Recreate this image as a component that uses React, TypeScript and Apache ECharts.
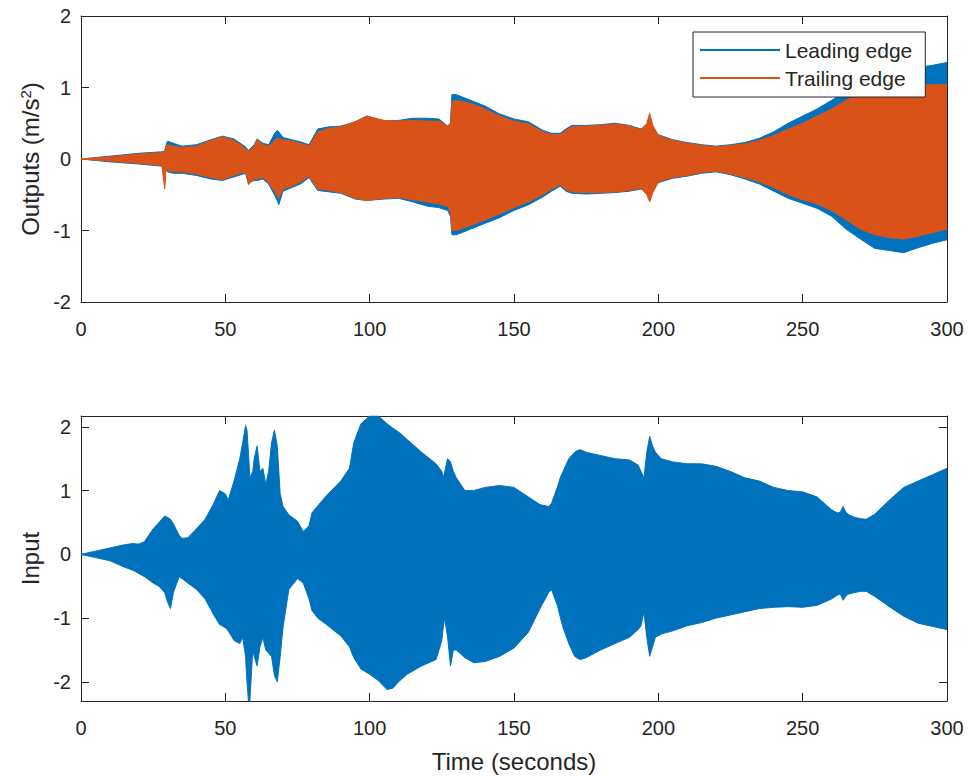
import React, { useEffect, useRef } from "react";
import * as echarts from "echarts";

// ---------- data (envelopes) ----------
const topTime = [0, 10, 20, 28, 29, 29.5, 30, 32, 35, 40, 45, 49, 53, 57, 58, 60, 61, 63, 65, 67, 68, 68.5, 70, 73, 76, 79, 82, 86, 90, 95, 99, 105, 110, 115, 120, 124, 127, 128, 128.5, 130, 135, 140, 145, 150, 155, 160, 163, 166, 168, 170, 175, 180, 185, 190, 194, 196, 197, 198, 200, 205, 210, 215, 220, 225, 230, 235, 240, 245, 250, 255, 260, 265, 270, 275, 280, 285, 290, 295, 300];
const leadingUpper = [0, 0.04, 0.08, 0.1, 0.11, 0.2, 0.25, 0.22, 0.18, 0.2, 0.27, 0.32, 0.28, 0.17, 0.12, 0.2, 0.28, 0.22, 0.2, 0.35, 0.4, 0.38, 0.3, 0.27, 0.24, 0.2, 0.42, 0.45, 0.46, 0.52, 0.6, 0.53, 0.54, 0.57, 0.57, 0.56, 0.46, 0.5, 0.9, 0.9, 0.82, 0.74, 0.63, 0.56, 0.52, 0.4, 0.36, 0.36, 0.42, 0.47, 0.47, 0.48, 0.5, 0.47, 0.42, 0.45, 0.5, 0.45, 0.34, 0.27, 0.23, 0.2, 0.18, 0.2, 0.23, 0.29, 0.38, 0.5, 0.6, 0.7, 0.82, 0.95, 1.05, 1.15, 1.2, 1.24, 1.28, 1.31, 1.35];
const leadingLower = [0, -0.04, -0.07, -0.1, -0.12, -0.15, -0.18, -0.2, -0.2, -0.23, -0.28, -0.3, -0.25, -0.2, -0.33, -0.3, -0.3, -0.28, -0.35, -0.5, -0.58, -0.64, -0.45, -0.4, -0.35, -0.26, -0.44, -0.46, -0.48, -0.56, -0.58, -0.56, -0.55, -0.6, -0.66, -0.68, -0.72, -0.8, -1.06, -1.06, -0.98, -0.9, -0.82, -0.72, -0.64, -0.53, -0.45, -0.38, -0.45, -0.48, -0.49, -0.48, -0.47, -0.45, -0.42, -0.45, -0.52, -0.45, -0.33, -0.27, -0.24, -0.2, -0.18, -0.22, -0.28, -0.35, -0.45, -0.55, -0.62, -0.69, -0.8, -0.98, -1.12, -1.25, -1.28, -1.31, -1.24, -1.18, -1.13];
const trailingUpper = [0, 0.03, 0.07, 0.09, 0.1, 0.18, 0.2, 0.18, 0.16, 0.18, 0.26, 0.31, 0.26, 0.15, 0.1, 0.18, 0.27, 0.2, 0.18, 0.26, 0.3, 0.28, 0.27, 0.25, 0.22, 0.18, 0.38, 0.43, 0.45, 0.52, 0.6, 0.54, 0.53, 0.54, 0.53, 0.53, 0.46, 0.5, 0.8, 0.82, 0.78, 0.7, 0.6, 0.53, 0.49, 0.38, 0.34, 0.34, 0.4, 0.45, 0.46, 0.47, 0.49, 0.46, 0.41, 0.5, 0.64, 0.48, 0.33, 0.26, 0.22, 0.19, 0.17, 0.19, 0.21, 0.26, 0.33, 0.42, 0.5, 0.6, 0.7, 0.82, 0.92, 0.97, 0.99, 1.01, 1.03, 1.04, 1.04];
const trailingLower = [0, -0.03, -0.06, -0.09, -0.42, -0.12, -0.16, -0.18, -0.18, -0.21, -0.26, -0.29, -0.23, -0.18, -0.36, -0.28, -0.28, -0.26, -0.33, -0.45, -0.52, -0.55, -0.42, -0.38, -0.32, -0.24, -0.42, -0.44, -0.47, -0.55, -0.58, -0.55, -0.54, -0.57, -0.6, -0.63, -0.66, -0.75, -1.0, -1.0, -0.93, -0.85, -0.77, -0.68, -0.6, -0.5, -0.42, -0.36, -0.43, -0.46, -0.47, -0.47, -0.46, -0.44, -0.41, -0.5, -0.6, -0.48, -0.32, -0.26, -0.23, -0.19, -0.17, -0.21, -0.26, -0.32, -0.4, -0.5, -0.57, -0.63, -0.72, -0.85, -0.98, -1.06, -1.1, -1.12, -1.08, -1.03, -0.98];

const inputTime = [0, 5, 10, 15, 18, 20, 22, 25, 27, 28, 29, 30, 31, 32, 34, 35, 37, 40, 43, 46, 48, 50, 51, 53, 55, 56, 57, 57.5, 58, 58.5, 59.5, 60, 61, 62, 63, 64, 65, 66, 67, 68, 69, 70, 72, 75, 77, 79, 80, 82, 85, 90, 93, 94.5, 97, 100, 103, 106, 108, 110, 113, 118, 123, 125, 125.5, 126, 127, 128, 129, 130, 133, 136, 140, 145, 150, 155, 159, 162, 163, 165, 166, 167, 169, 171, 172, 173, 175, 180, 185, 190, 193, 194, 195, 196, 197, 198, 199, 201, 205, 210, 215, 220, 225, 230, 235, 240, 245, 250, 255, 260, 262, 263, 264, 265, 266, 268, 270, 272, 275, 280, 285, 290, 295, 300];
const inputUpper = [0, 0.05, 0.1, 0.15, 0.17, 0.16, 0.2, 0.4, 0.5, 0.55, 0.6, 0.58, 0.55, 0.48, 0.3, 0.25, 0.26, 0.4, 0.55, 0.8, 1.0, 0.95, 0.85, 1.15, 1.5, 1.75, 2.02, 1.95, 1.6, 1.2, 1.3, 1.5, 1.7, 1.3, 1.35, 1.1, 1.3, 1.75, 1.95, 1.7, 0.95, 0.75, 0.62, 0.52, 0.36, 0.45, 0.65, 0.76, 0.92, 1.15, 1.35, 1.75, 2.05, 2.17, 2.17, 2.05, 1.98, 1.92, 1.8, 1.6, 1.42, 1.3, 1.2, 1.3, 1.5, 1.45, 1.3, 1.2, 1.0, 1.0, 1.05, 1.08, 1.05, 0.9, 0.78, 0.75, 0.8, 1.05, 1.2, 1.3, 1.5, 1.6, 1.63, 1.64, 1.6, 1.55, 1.5, 1.48, 1.4, 1.3, 1.2, 1.6, 1.85, 1.7, 1.6, 1.5, 1.45, 1.42, 1.42, 1.38, 1.3, 1.2, 1.15, 1.05, 1.0, 0.98, 0.9, 0.7, 0.65, 0.66, 0.75, 0.66, 0.62, 0.58, 0.56, 0.55, 0.63, 0.85, 1.05, 1.15, 1.25, 1.35];
const inputLower = [0, -0.05, -0.1, -0.2, -0.25, -0.3, -0.35, -0.45, -0.5, -0.55, -0.6, -0.75, -0.85, -0.6, -0.35, -0.38, -0.45, -0.55, -0.7, -0.95, -1.1, -1.15, -1.2, -1.35, -1.4, -1.3, -1.6, -2.0, -2.3, -2.3, -1.5, -1.6, -1.75, -1.45, -1.3, -1.5, -1.55, -1.6, -1.9, -2.0, -1.6, -1.14, -0.55, -0.38, -0.45, -0.7, -0.88, -1.0, -1.1, -1.28, -1.45, -1.62, -1.8, -1.88, -1.98, -2.12, -2.1, -2.0, -1.88, -1.75, -1.65, -1.35, -1.15, -1.0, -1.3, -1.75, -1.5, -1.5, -1.62, -1.7, -1.68, -1.6, -1.47, -1.22, -0.85, -0.6, -0.55, -0.8, -0.98, -1.15, -1.4, -1.6, -1.63, -1.65, -1.62, -1.5, -1.4, -1.3, -1.18, -1.12, -0.9, -1.3, -1.6, -1.45, -1.3, -1.25, -1.2, -1.12, -1.07, -1.0, -0.95, -0.9, -0.85, -0.83, -0.82, -0.83, -0.8, -0.7, -0.64, -0.62, -0.72, -0.65, -0.62, -0.6, -0.58, -0.58, -0.66, -0.82, -0.97, -1.08, -1.13, -1.18];

const timeTicks = [0, 50, 100, 150, 200, 250, 300];
const outputTicks = [-2, -1, 0, 1, 2];
const inputTicks = [-2, -1, 0, 1, 2];

const seriesNames = ["Leading edge", "Trailing edge", "Input"];
const xLabel = "Time (seconds)";
const yLabelTop = "Outputs (m/s{sup|2})";
const yLabelBottom = "Input";

const BLUE = "#0072BD";
const ORANGE = "#D95319";
const INK = "#262626";
const FONT = "'Liberation Sans', Arial, Helvetica, sans-serif";

const zip = (xs: number[], ys: number[]) => xs.map((x, i) => [x, ys[i]]);

// One half of an envelope band, filled towards (just past) zero so the
// upper and lower halves overlap slightly and leave no seam.
function half(
  name: string,
  color: string,
  xs: number[],
  ys: number[],
  xAxis: number,
  yAxis: number,
  z: number,
  origin: number
) {
  return {
    type: "line",
    name,
    xAxisIndex: xAxis,
    yAxisIndex: yAxis,
    data: zip(xs, ys),
    symbol: "none",
    showSymbol: false,
    z,
    color,
    lineStyle: { color, width: 1 },
    itemStyle: { color },
    areaStyle: { color, opacity: 1, origin },
    emphasis: { disabled: true },
    silent: true,
  };
}

export default function App() {
  const ref = useRef<HTMLDivElement>(null);

  useEffect(() => {
    if (!ref.current) return;
    const chart = echarts.init(ref.current, undefined, { renderer: "svg" });

    const tick = { show: true, inside: true, length: 8, lineStyle: { color: INK, width: 1 } };
    const line = { show: true, onZero: false, lineStyle: { color: INK, width: 1 } };
    const xLab = { fontSize: 20, color: INK, margin: 17, fontFamily: FONT };
    const yLab = { fontSize: 20, color: INK, margin: 10, fontFamily: FONT };

    const xBase = (grid: number) => ({
      type: "value",
      gridIndex: grid,
      min: 0,
      max: 300,
      interval: 50,
      position: "bottom",
      axisLine: line,
      axisTick: tick,
      splitLine: { show: false },
    });

    const option: any = {
      animation: false,
      textStyle: { fontFamily: FONT },
      grid: [
        { left: 81, right: 23, top: 16, height: 286 },
        { left: 81, right: 23, top: 416, height: 285 },
      ],
      legend: {
        data: [
          { name: seriesNames[0], icon: "rect", itemStyle: { color: BLUE } },
          { name: seriesNames[1], icon: "rect", itemStyle: { color: ORANGE } },
        ],
        orient: "vertical",
        left: 693,
        top: 32,
        itemWidth: 80,
        itemHeight: 2,
        itemGap: 4,
        padding: [6, 13, 7, 7],
        borderColor: INK,
        borderWidth: 1,
        backgroundColor: "#ffffff",
        selectedMode: false,
        textStyle: { fontSize: 21, color: INK, lineHeight: 24, fontFamily: FONT },
      },
      xAxis: [
        { ...xBase(0), axisLabel: { ...xLab, customValues: timeTicks } },
        { ...xBase(0), position: "top", axisLabel: { show: false } },
        {
          ...xBase(1),
          axisLabel: { ...xLab, customValues: timeTicks },
          name: xLabel,
          nameLocation: "middle",
          nameGap: 48,
          nameTextStyle: { fontSize: 24, color: INK, fontFamily: FONT },
        },
        { ...xBase(1), position: "top", axisLabel: { show: false } },
      ],
      yAxis: [
        {
          type: "value",
          gridIndex: 0,
          min: -2,
          max: 2,
          interval: 1,
          position: "left",
          axisLine: line,
          axisTick: tick,
          splitLine: { show: false },
          axisLabel: { ...yLab, customValues: outputTicks },
          name: yLabelTop,
          nameLocation: "middle",
          nameGap: 36,
          nameTextStyle: {
            fontSize: 24,
            color: INK,
            fontFamily: FONT,
            rich: {
              sup: { fontSize: 15, color: INK, fontFamily: FONT, verticalAlign: "top", padding: [0, 0, 10, 0] },
            },
          },
        },
        {
          type: "value",
          gridIndex: 0,
          min: -2,
          max: 2,
          interval: 1,
          position: "right",
          axisLine: line,
          axisTick: tick,
          splitLine: { show: false },
          axisLabel: { show: false },
        },
        {
          type: "value",
          gridIndex: 1,
          min: -2.3,
          max: 2.17,
          position: "left",
          axisLine: line,
          axisTick: { ...tick, customValues: inputTicks },
          splitLine: { show: false },
          axisLabel: { ...yLab, customValues: inputTicks },
          name: yLabelBottom,
          nameLocation: "middle",
          nameGap: 36,
          nameTextStyle: { fontSize: 24, color: INK, fontFamily: FONT },
        },
        {
          type: "value",
          gridIndex: 1,
          min: -2.3,
          max: 2.17,
          position: "right",
          axisLine: line,
          axisTick: { ...tick, customValues: inputTicks },
          splitLine: { show: false },
          axisLabel: { show: false },
        },
      ],
      series: [
        half(seriesNames[0], BLUE, topTime, leadingUpper, 0, 0, 2, -0.012),
        half(seriesNames[0], BLUE, topTime, leadingLower, 0, 0, 2, 0.012),
        half(seriesNames[1], ORANGE, topTime, trailingUpper, 0, 0, 3, -0.012),
        half(seriesNames[1], ORANGE, topTime, trailingLower, 0, 0, 3, 0.012),
        half(seriesNames[2], BLUE, inputTime, inputUpper, 2, 2, 2, -0.015),
        half(seriesNames[2], BLUE, inputTime, inputLower, 2, 2, 2, 0.015),
      ],
    };

    chart.setOption(option);
    return () => chart.dispose();
  }, []);

  return (
    <div
      ref={ref}
      style={{ position: "fixed", left: 0, top: 0, width: 970, height: 776, background: "#ffffff" }}
    />
  );
}
